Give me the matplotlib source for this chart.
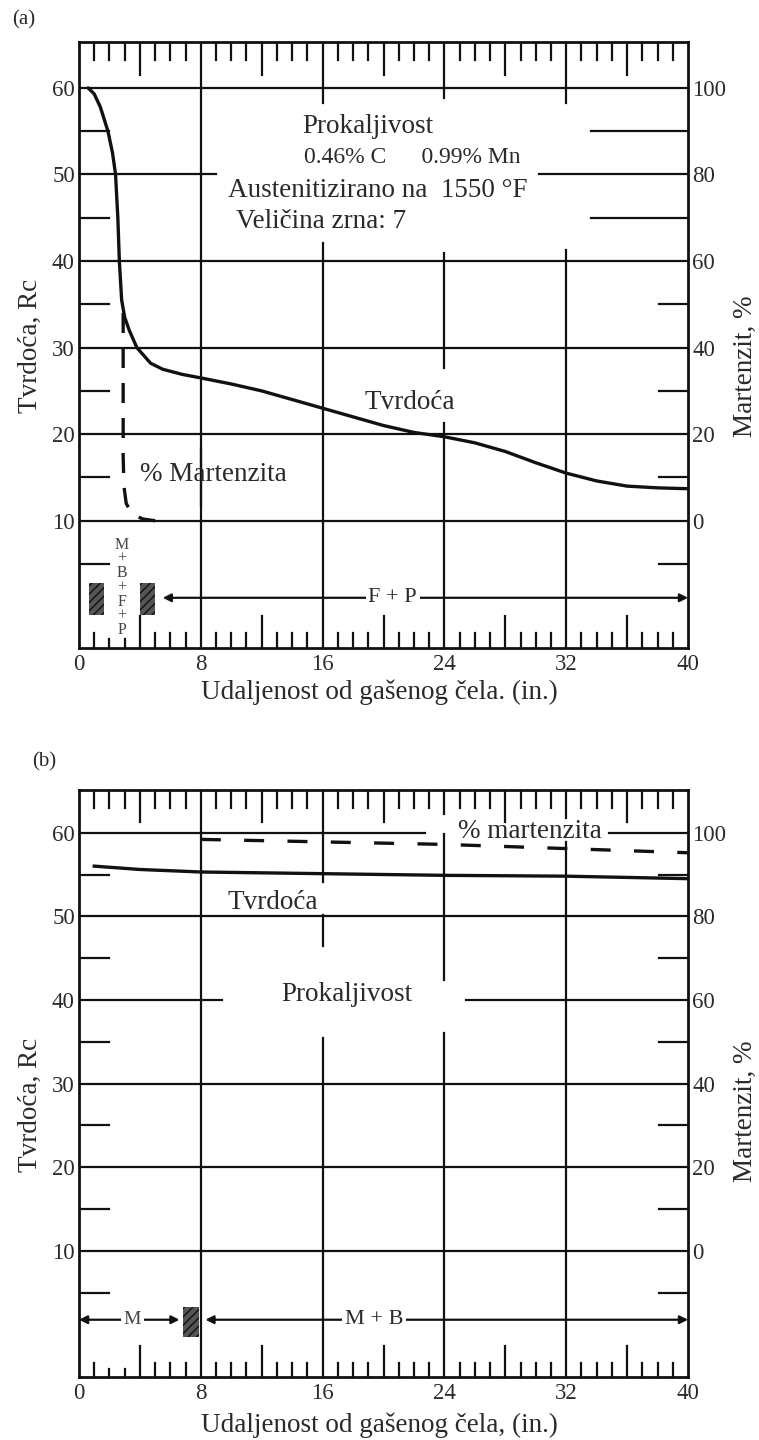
# Jominy hardenability curves, panels (a) and (b)
import matplotlib.pyplot as plt
from matplotlib.patches import Rectangle

plt.rcParams['font.family'] = ['Liberation Serif', 'DejaVu Serif']

# distance from the quenched end, in.
x_ticks = [0, 8, 16, 24, 32, 40]
rc_ticks = [10, 20, 30, 40, 50, 60]
mart_ticks = [0, 20, 40, 60, 80, 100]

# panel (a): 0.46% C, 0.99% Mn
a_hard_x = [0.6, 1.0, 1.4, 1.9, 2.2, 2.4, 2.55, 2.65, 2.8, 3.0, 3.3, 3.8, 4.7, 5.5, 6.8, 8, 10, 12,
            14, 16, 18, 20, 22, 24, 26, 28, 30, 32, 34, 36, 38, 40]
a_hard = [60, 59.3, 57.8, 55, 52.5, 50, 45, 40, 35.5, 33.5, 32, 30, 28.2, 27.5, 26.9, 26.5, 25.8,
          25.0, 24.0, 23.0, 22.0, 21.0, 20.2, 19.7, 19.0, 18.0, 16.7, 15.5, 14.6, 14.0, 13.8, 13.7]
a_mart_x = [2.9, 2.9, 2.9, 2.95, 3.1, 3.5, 4.2, 5.0]
a_mart = [48, 30, 15, 8, 4, 1.5, 0.4, 0]

# panel (b)
b_hard_x = [1.0, 4, 8, 16, 24, 32, 40]
b_hard = [56.0, 55.6, 55.3, 55.1, 54.9, 54.8, 54.5]
b_mart_x = [8, 16, 24, 32, 40]
b_mart = [98.4, 97.8, 97.2, 96.2, 95.2]

ink = '#111111'
txt = '#2a2a2a'
fs = 19.5

fig = plt.figure(figsize=(7.59, 14.4), dpi=100)
ax1 = fig.add_axes([0.1041, 0.55, 0.8024, 0.4208])
ax2 = fig.add_axes([0.1041, 0.04375, 0.8024, 0.4076])


def frame(ax, ylo, yhi, hsegs, vsegs):
    ax.set_xlim(0, 40)
    ax.set_ylim(ylo, yhi)
    for s in ax.spines.values():
        s.set_linewidth(2.0)
        s.set_color(ink)
    ax.set_xticks(x_ticks)
    ax.set_yticks(rc_ticks)
    ax.tick_params(length=0, labelsize=16.5, labelcolor=txt)
    ax.tick_params(axis='x', pad=4)
    ax.tick_params(axis='y', pad=3)
    # ruler ticks top and bottom
    for x in range(1, 40):
        if x % 8 == 0:
            continue
        lg = x % 4 == 0
        ax.plot([x, x], [yhi, yhi - (3.8 if lg else 2.1)], color=ink, lw=1.6)
        bl = 3.7 if lg else 1.7
        if x in (2, 3):
            bl = 1.0
        ax.plot([x, x], [ylo, ylo + bl], color=ink, lw=1.6)
    # short ticks on the left side
    for y in [55, 45, 35, 25, 15, 5]:
        ax.plot([0, 2], [y, y], color=ink, lw=1.6)
    for y, x0, x1 in hsegs:
        ax.plot([x0, x1], [y, y], color=ink, lw=1.6)
    for x, y0, y1 in vsegs:
        ax.plot([x, x], [y0, y1], color=ink, lw=1.6)
    tw = ax.twinx()
    tw.set_ylim((ylo - 10) * 2, (yhi - 10) * 2)
    tw.set_yticks(mart_ticks)
    tw.tick_params(length=0, labelsize=16.5, labelcolor=txt, pad=3)
    for s in tw.spines.values():
        s.set_visible(False)
    return tw


# ---------- panel (a) ----------
ylo_a, yhi_a = -4.7, 65.3
h_a = [(60, 0, 40), (55, 33.6, 40), (50, 0, 9.0), (50, 30.2, 40), (45, 33.6, 40), (40, 0, 40),
       (35, 38.1, 40), (30, 0, 40), (25, 38.1, 40), (20, 0, 40), (15, 38.1, 40), (10, 0, 40),
       (5, 38.1, 40)]
v_a = [(8, 11.8, yhi_a), (8, ylo_a, 18.4),
       (16, 58.3, yhi_a), (16, ylo_a, 42.1),
       (24, 58.8, yhi_a), (24, 27.7, 40.9), (24, ylo_a, 21.3),
       (32, 58.3, yhi_a), (32, ylo_a, 41.3)]
tw1 = frame(ax1, ylo_a, yhi_a, h_a, v_a)

ax1.plot(a_hard_x, a_hard, color=ink, lw=2.4, solid_capstyle='round', solid_joinstyle='round')
ln, = tw1.plot(a_mart_x, a_mart, color=ink, lw=2.4)
ln.set_dashes((6, 4.5))

ax1.text(19.0, 55.5, 'Prokaljivost', ha='center', va='center', fontsize=fs, color=txt)
ax1.text(21.9, 52.0, '0.46% C      0.99% Mn', ha='center', va='center', fontsize=17, color=txt)
ax1.text(19.6, 48.2, 'Austenitizirano na  1550 °F', ha='center', va='center', fontsize=fs, color=txt)
ax1.text(15.9, 44.6, 'Veličina zrna: 7', ha='center', va='center', fontsize=fs, color=txt)
ax1.text(21.7, 23.7, 'Tvrdoća', ha='center', va='center', fontsize=fs, color=txt)
ax1.text(4.0, 15.3, '% Martenzita', ha='left', va='center', fontsize=fs, color=txt)
ax1.text(2.8, 2.3, 'M\n+\nB\n+\nF\n+\nP', ha='center', va='center', fontsize=11.5,
         linespacing=0.85, color='#444444')

for x0 in (0.65, 4.0):
    ax1.add_patch(Rectangle((x0, -0.9), 1.0, 3.7, facecolor='#555555', edgecolor='#111111',
                            hatch='////', lw=0))
ax1.annotate('', xy=(5.5, 1.1), xytext=(40, 1.1),
             arrowprops=dict(arrowstyle='<|-|>', color=ink, lw=1.6, mutation_scale=12,
                             shrinkA=0, shrinkB=0))
ax1.text(20.6, 1.1, 'F + P', ha='center', va='center', fontsize=16, color=txt,
         bbox=dict(facecolor='white', edgecolor='none', pad=2))

# ---------- panel (b) ----------
ylo_b, yhi_b = -5.1, 65.1
h_b = [(60, 0, 22.7), (60, 34.8, 40), (55, 38.1, 40), (50, 0, 40), (45, 38.1, 40),
       (40, 0, 9.4), (40, 25.4, 40), (35, 38.1, 40), (30, 0, 40), (25, 38.1, 40),
       (20, 0, 40), (15, 38.1, 40), (10, 0, 40), (5, 38.1, 40)]
v_b = [(8, ylo_b, yhi_b),
       (16, 54.1, yhi_b), (16, 46.4, 50.2), (16, ylo_b, 35.5),
       (24, 62.2, yhi_b), (24, 42.4, 59.8), (24, ylo_b, 36.1),
       (32, 61.8, yhi_b), (32, ylo_b, 58.9)]
tw2 = frame(ax2, ylo_b, yhi_b, h_b, v_b)

ax2.plot(b_hard_x, b_hard, color=ink, lw=2.4)
ln, = tw2.plot(b_mart_x, b_mart, color=ink, lw=2.4)
ln.set_dashes((6, 7))

ax2.text(12.7, 51.7, 'Tvrdoća', ha='center', va='center', fontsize=fs, color=txt)
ax2.text(17.6, 40.6, 'Prokaljivost', ha='center', va='center', fontsize=fs, color=txt)
ax2.text(29.6, 60.2, '% martenzita', ha='center', va='center', fontsize=fs, color=txt)

ax2.add_patch(Rectangle((6.8, -0.3), 1.1, 3.6, facecolor='#555555', edgecolor='#111111',
                        hatch='////', lw=0))
ax2.annotate('', xy=(0, 1.75), xytext=(6.6, 1.75),
             arrowprops=dict(arrowstyle='<|-|>', color=ink, lw=1.6, mutation_scale=12,
                             shrinkA=0, shrinkB=0))
ax2.text(3.5, 1.75, 'M', ha='center', va='center', fontsize=14, color='#444444',
         bbox=dict(facecolor='white', edgecolor='none', pad=2))
ax2.annotate('', xy=(8.3, 1.75), xytext=(40, 1.75),
             arrowprops=dict(arrowstyle='<|-|>', color=ink, lw=1.6, mutation_scale=12,
                             shrinkA=0, shrinkB=0))
ax2.text(19.4, 1.75, 'M + B', ha='center', va='center', fontsize=16, color=txt,
         bbox=dict(facecolor='white', edgecolor='none', pad=2))

# labels
fig.text(0.016, 0.986, '(a)', fontsize=15, color=txt, va='center')
fig.text(0.042, 0.471, '(b)', fontsize=15, color=txt, va='center')
fig.text(0.5, 0.5195, 'Udaljenost od gašenog čela. (in.)', ha='center', va='center',
         fontsize=19.5, color=txt)
fig.text(0.5, 0.0104, 'Udaljenost od gašenog čela, (in.)', ha='center', va='center',
         fontsize=19.5, color=txt)
fig.text(0.04, 0.76, 'Tvrdoća, Rc', rotation=90, ha='center', va='center', fontsize=fs, color=txt)
fig.text(0.04, 0.233, 'Tvrdoća, Rc', rotation=90, ha='center', va='center', fontsize=fs, color=txt)
fig.text(0.982, 0.746, 'Martenzit, %', rotation=90, ha='center', va='center', fontsize=fs, color=txt)
fig.text(0.982, 0.228, 'Martenzit, %', rotation=90, ha='center', va='center', fontsize=fs, color=txt)

fig.savefig('out.png', dpi=100)
